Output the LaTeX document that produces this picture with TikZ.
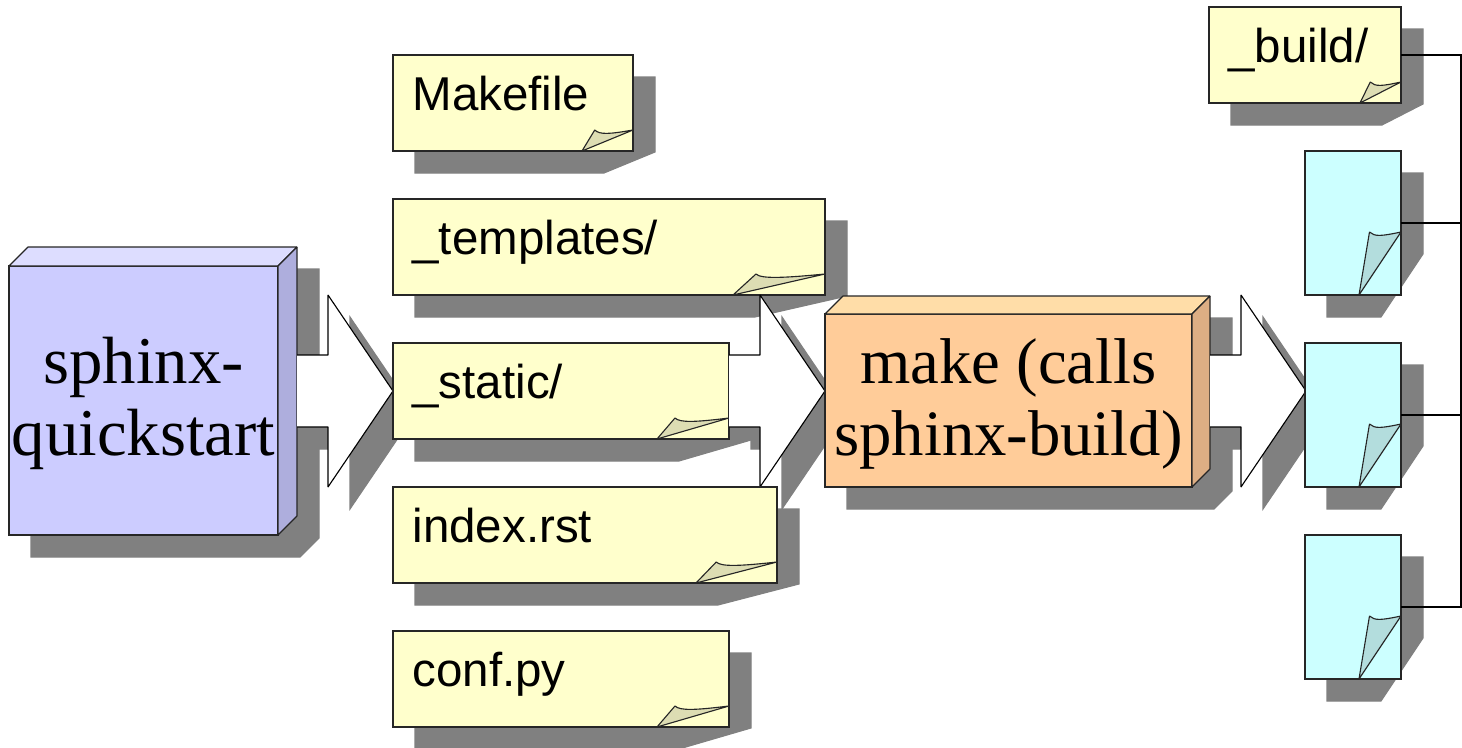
\documentclass[tikz,border=0pt]{standalone}
\usepackage{fontspec}
\setmainfont{Liberation Serif}
\newfontfamily\sansfont{Liberation Sans}
\usetikzlibrary{calc}
\definecolor{nota}{HTML}{FFFFCC}
\definecolor{notadobla}{HTML}{DDDDB3}
\definecolor{hoja}{HTML}{CCFFFF}
\definecolor{hojadobla}{HTML}{B3DDDD}
\definecolor{azul}{HTML}{CCCCFF}
\definecolor{azultapa}{HTML}{DDDDFF}
\definecolor{azullado}{HTML}{AEAEDD}
\definecolor{naranja}{HTML}{FFCC99}
\definecolor{naranjatapa}{HTML}{FFDDA8}
\definecolor{naranjalado}{HTML}{DDAE84}

\begin{document}
\begin{tikzpicture}[
	x=0.01cm,
	y=-0.01cm,
	line width=0.32pt,
	misombra/.style ={fill=black!50, draw=black!50},
	miborde/.style ={draw=black!85, inner sep=0, outer sep=0, anchor=north west},
	midoblez/.style ={draw=black!85, line join=bevel},
	mirotulo/.style ={anchor=base west, inner sep=0, font=\sansfont\fontsize{13.5}{16}\selectfont},
	micaja/.style ={align=center, inner sep=0, font=\fontsize{19}{20.5}\selectfont}]

	\useasboundingbox (0,0) rectangle (1462,748);

	\def\pagina[#1:#2](#3)(#4,#5:#6:#7)(#8:#9)% Syntax: [fill:fold] (name) (x,y:width:height) (fold width:fold height)
		{\path[misombra] (#4+22,#5+22) -- (#4+#6+22,#5+22) -- (#4+#6+22,#5+#7+22-#9) -- (#4+#6+22-#8,#5+#7+22) -- (#4+22,#5+#7+22) -- cycle;
		\node[miborde, fill=#1, minimum width=#6*0.01cm, minimum height=#7*0.01cm] (#3) at (#4,#5) {};
		\draw[midoblez, fill=#2] ($(#3.south east)+(-#8,0)$) -- ($(#3.south east)+(-0.75*#8,-#9)$)
			.. controls +(5,5) and ($(#3.south east)+(-0.45*#8,-#9+4)$) .. ($(#3.south east)+(0,-#9)$) -- cycle; }

	\def\rotulo(#1)#2{\node[mirotulo] (#1t) at ($(#1.north west)+(19,55)$) {#2};}

	\def\caja[#1:#2:#3](#4)(#5,#6:#7:#8:#9)% Syntax: [front:top:side] (name) (x,y:width:height:depth)
		{\path[misombra] (#5+22,#6+22) -- (#5+22+#9,#6+22-#9) -- (#5+22+#7+#9,#6+22-#9) -- (#5+22+#7+#9,#6+22+#8-#9) -- (#5+22+#7,#6+22+#8) -- (#5+22,#6+22+#8) -- cycle;
		\node[miborde, fill=#1, minimum width=#7*0.01cm, minimum height=#8*0.01cm] (#4) at (#5,#6) {};
		\draw[midoblez, fill=#2] (#4.north west) -- ++(#9,-#9) -- ($(#4.north east)+(#9,-#9)$) -- (#4.north east) -- cycle;
		\draw[midoblez, fill=#3] (#4.north east) -- ++(#9,-#9) -- ($(#4.south east)+(#9,-#9)$) -- (#4.south east) -- cycle; }

	\def\flecha(#1,#2)% Syntax: (x of the tail,y of the axis)
		{\path[misombra] (#1+22,#2-14) -- (#1+53,#2-14) -- (#1+53,#2-74) -- (#1+118,#2+22) -- (#1+53,#2+118) -- (#1+53,#2+58) -- (#1+22,#2+58) -- cycle;
		\fill[white] (#1,#2-36) -- (#1+31,#2-36) -- (#1+31,#2-96) -- (#1+96,#2) -- (#1+31,#2+96) -- (#1+31,#2+36) -- (#1,#2+36) -- cycle;
		\draw[line join=bevel] (#1,#2-36) -- (#1+31,#2-36) -- (#1+31,#2-96) -- (#1+96,#2) -- (#1+31,#2+96) -- (#1+31,#2+36) -- (#1,#2+36); }

	\caja[azul:azultapa:azullado](quickstart)(9,266:269:269:19)
	\node[micaja] (quickstartt) at ($(quickstart.center)+(0,3)$) {sphinx-\\quickstart};
	\flecha(297,391)

	\pagina[nota:notadobla](makefile)(393,55:240:96)(51:21)
	\rotulo(makefile){Makefile}
	\pagina[nota:notadobla](templates)(393,199:432:96)(92:21)
	\rotulo(templates){\_templates/}
	\pagina[nota:notadobla](static)(393,343:336:96)(72:21)
	\rotulo(static){\_static/}

	\flecha(729,391)

	\pagina[nota:notadobla](index)(393,487:384:96)(81:21)
	\rotulo(index){index.rst}
	\pagina[nota:notadobla](conf)(393,631:336:96)(72:21)
	\rotulo(conf){conf.py}

	\caja[naranja:naranjatapa:naranjalado](make)(825,314:367:173:18)
	\node[micaja, font=\fontsize{18.4}{20.5}\selectfont] (maket) at ($(make.center)+(0,3)$) {make (calls\\sphinx-build)};
	\flecha(1210,391)

	\pagina[nota:notadobla](build)(1209,7:192:96)(41:21)
	\rotulo(build){\_build/}
	\pagina[hoja:hojadobla](doca)(1305,151:96:144)(42:63)
	\pagina[hoja:hojadobla](docb)(1305,343:96:144)(42:63)
	\pagina[hoja:hojadobla](docc)(1305,535:96:144)(42:63)

	\coordinate (bus) at (1461,0);
	\draw (build.east) -| (docc.east -| bus) -- (docc.east);
	\foreach \n in {doca,docb}
		\draw (\n.east) -- (\n.east -| bus);

\end{tikzpicture}
\end{document}
